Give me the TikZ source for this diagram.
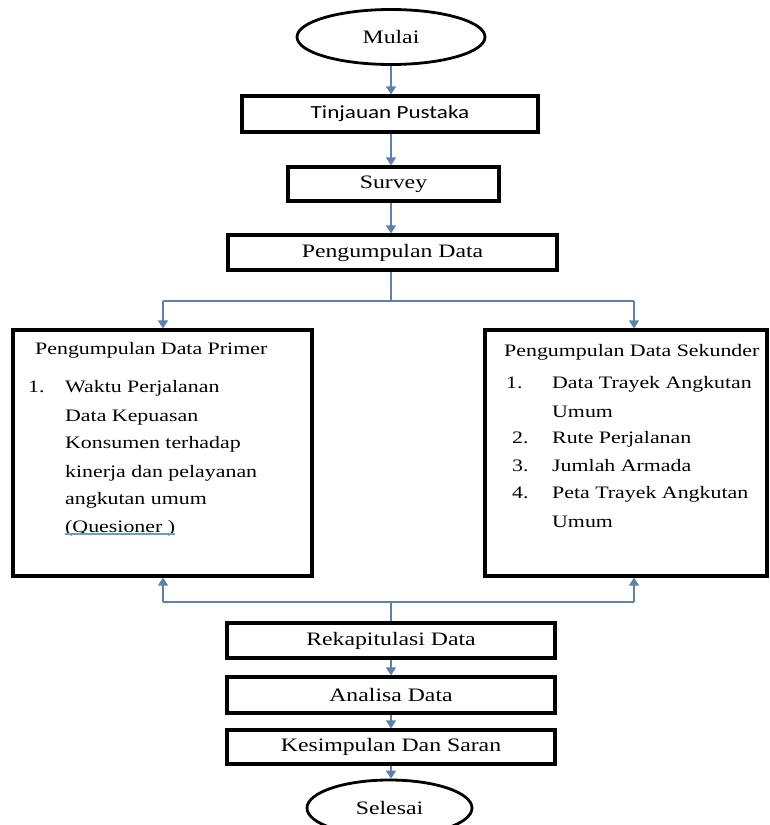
\documentclass[tikz,border=0pt]{standalone}
\usepackage{fontspec}
\setmainfont{Liberation Serif}[FakeStretch=1.25]
\newfontfamily\sansf{Carlito}[FakeStretch=1.25]
\usetikzlibrary{arrows.meta,shapes.geometric}
\definecolor{arrblue}{HTML}{5F80AA}
\definecolor{linkblue}{HTML}{6F9AD0}
\begin{document}
\begin{tikzpicture}[x=1pt,y=-1pt,
  box/.style={draw, line width=3.2pt, inner sep=0pt, font=\fontsize{19}{22}\selectfont},
  oval/.style={draw, ellipse, line width=2.8pt, inner sep=0pt, font=\fontsize{19}{22}\selectfont},
  arr/.style={draw=arrblue, line width=1.3pt, -{Triangle[width=10pt,length=8pt]}},
  ln/.style={draw=arrblue, line width=1.3pt},
  item/.style={anchor=base west, inner sep=0pt, font=\fontsize{17.5}{20}\selectfont}]
\useasboundingbox (0,0) rectangle (769,825);
\clip (0,0) rectangle (769,825);
\fill[white] (0,0) rectangle (769,825);

% main column
\node[oval, minimum width=188pt, minimum height=55pt] (mulai) at (391,37) {Mulai};
\node[box, minimum width=296pt, minimum height=36pt, font=\sansf\fontsize{18.5}{22}\selectfont] (tp) at (390,114) {Tinjauan Pustaka};
\node[box, minimum width=211pt, minimum height=34pt] (sv) at (393.5,184) {Survey};
\node[box, minimum width=329pt, minimum height=35pt] (pd) at (392.5,252.5) {Pengumpulan Data};

% side boxes
\node[box, minimum width=299pt, minimum height=246pt] (left) at (162.5,453) {};
\node[box, minimum width=282pt, minimum height=246pt] (right) at (626,453) {};

% left box text
\node[item] (lt) at (35,354) {Pengumpulan Data Primer};
\node[item] (ln1) at (28,392) {1.};
\node[item] (l1) at (65,392) {Waktu Perjalanan};
\node[item] (l2) at (65,421) {Data Kepuasan};
\node[item] (l3) at (65,448) {Konsumen terhadap};
\node[item] (l4) at (65,477) {kinerja dan pelayanan};
\node[item] (l5) at (65,504) {angkutan umum};
\node[item] (l6) at (65,532) {(Quesioner )};
\draw[linkblue, line width=1.2pt] ([yshift=-2pt]l6.base west) -- ([yshift=-2pt]l6.base east);

% right box text
\node[item] (rt) at (504,356) {Pengumpulan Data Sekunder};
\node[item] (rn1) at (506,388) {1.};
\node[item] (r1) at (552,388) {Data Trayek Angkutan};
\node[item] (r1b) at (552,417) {Umum};
\node[item] (rn2) at (512,443) {2.};
\node[item] (r2) at (552,443) {Rute Perjalanan};
\node[item] (rn3) at (512,471) {3.};
\node[item] (r3) at (552,471) {Jumlah Armada};
\node[item] (rn4) at (512,498) {4.};
\node[item] (r4) at (552,498) {Peta Trayek Angkutan};
\node[item] (r4b) at (552,527) {Umum};

% lower column
\node[box, minimum width=328pt, minimum height=35pt] (rk) at (391,640.5) {Rekapitulasi Data};
\node[box, minimum width=328pt, minimum height=36pt] (an) at (391,695) {Analisa Data};
\node[box, minimum width=328pt, minimum height=34pt] (ks) at (391,747) {Kesimpulan Dan Saran};
\node[oval, minimum width=165pt, minimum height=56pt] (sl) at (389.5,808) {Selesai};

% connectors top
\draw[arr] (mulai.south) -- (mulai.south |- tp.north);
\draw[arr] (tp.south -| mulai.south) -- (mulai.south |- sv.north);
\draw[arr] (sv.south -| mulai.south) -- (mulai.south |- pd.north);
\coordinate (sp) at (391,301);
\coordinate (spl) at (163,301);
\coordinate (spr) at (634,301);
\draw[ln] (pd.south -| sp) -- (sp);
\draw[ln] (spl) -- (spr);
\draw[arr] (spl) -- (spl |- left.north);
\draw[arr] (spr) -- (spr |- right.north);

% connectors bottom
\coordinate (jn) at (391,602);
\coordinate (jnl) at (163,602);
\coordinate (jnr) at (634,602);
\draw[ln] (rk.north -| jn) -- (jn);
\draw[ln] (jnl) -- (jnr);
\draw[arr] (jnl) -- (jnl |- left.south);
\draw[arr] (jnr) -- (jnr |- right.south);
\draw[arr] (rk.south) -- (an.north);
\draw[arr] (an.south) -- (ks.north);
\draw[arr] (ks.south) -- (ks.south |- sl.north);
\end{tikzpicture}
\end{document}
